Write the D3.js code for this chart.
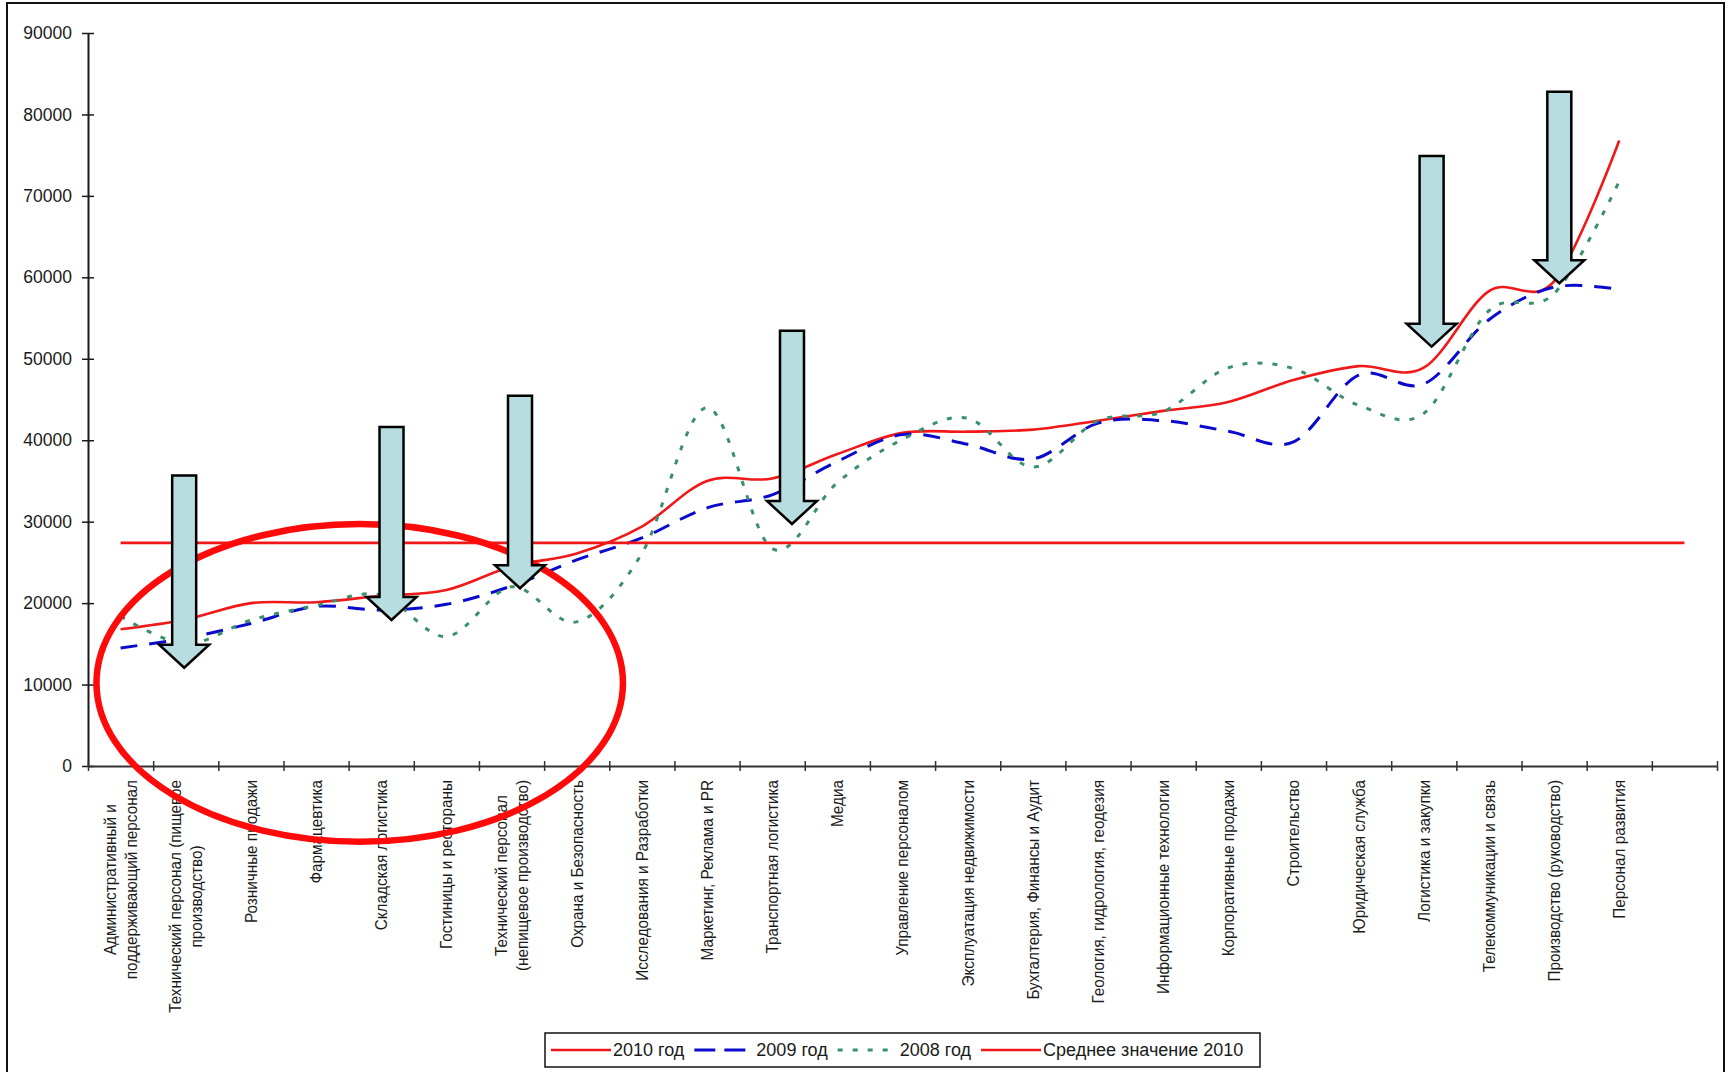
<!DOCTYPE html>
<html>
<head>
<meta charset="utf-8">
<script src="https://cdn.jsdelivr.net/npm/d3@7"></script>
<style>
  html, body { margin: 0; padding: 0; background: #fff; }
  svg { display: block; }
  text { font-family: "Liberation Sans", Arial, sans-serif; fill: #1a1a1a; }
</style>
</head>
<body>
<svg id="chart" width="1734" height="1072"></svg>
<script>
// ---------- DATA ----------
const categories = [
  "Административный и\nподдерживающий персонал",
  "Технический персонал (пищевое\nпроизводство)",
  "Розничные продажи",
  "Фармацевтика",
  "Складская логистика",
  "Гостиницы и рестораны",
  "Технический персонал\n(непищевое производство)",
  "Охрана и Безопасность",
  "Исследования и Разработки",
  "Маркетинг, Реклама и PR",
  "Транспортная логистика",
  "Медиа",
  "Управление персоналом",
  "Эксплуатация недвижимости",
  "Бухгалтерия, Финансы и Аудит",
  "Геология, гидрология, геодезия",
  "Информационные технологии",
  "Корпоративные продажи",
  "Строительство",
  "Юридическая служба",
  "Логистика и закупки",
  "Телекоммуникации и связь",
  "Производство (руководство)",
  "Персонал развития",
  ""
];

const values2010 = [16800, 18000, 20000, 20100, 20900, 21600, 24500, 26100, 29400, 35000, 35300, 38300,
                    40900, 41050, 41300, 42400, 43600, 44700, 47400, 49100, 48900, 58300, 59500, 76800];
const values2009 = [14500, 15700, 17500, 19600, 19150, 19850, 22100, 25300, 28000, 31700, 33300, 37400,
                    40700, 39500, 37700, 42100, 42400, 41100, 39800, 48000, 46900, 54800, 58800, 58500];
const values2008 = [18400, 15000, 17900, 19700, 21000, 15900, 22000, 17700, 26100, 44000, 26700, 34800,
                    40100, 42700, 36700, 42400, 43500, 48900, 48800, 44300, 43300, 55900, 58000, 71800];
const average2010 = [27400, 27400, 27400, 27400, 27400, 27400, 27400, 27400, 27400, 27400, 27400, 27400, 27400,
                     27400, 27400, 27400, 27400, 27400, 27400, 27400, 27400, 27400, 27400, 27400, 27400];

const yTickValues = [0, 10000, 20000, 30000, 40000, 50000, 60000, 70000, 80000, 90000];

const seriesNames = ["2010 год", "2009 год", "2008 год", "Среднее значение 2010"];

// annotation arrows: position in category units, top value, tip value
const arrowPos  = [1.476, 4.658, 6.63, 10.804, 20.62, 22.58];
const arrowTop  = [35670, 41630, 45470, 53450, 74900, 82800];
const arrowTip  = [12070, 17930, 21820, 29715, 51490, 59270];

// annotation ellipse: centre (category units, value), radii (category units, value)
const ellipseCenter = [4.17, 10200];
const ellipseRadius = [4.04, 19500];

// ---------- LAYOUT ----------
const svg = d3.select("#chart");
const plot = { left: 88, right: 1717, top: 33, bottom: 766 };

const x = d3.scaleBand().domain(d3.range(categories.length)).range([plot.left, plot.right]).padding(0);
const xLin = d3.scaleLinear().domain([0, categories.length]).range([plot.left, plot.right]);
const y = d3.scaleLinear().domain([0, 90000]).range([plot.bottom, plot.top]);
const cx = i => x(i) + x.bandwidth() / 2;

const colors = { s2010: "#f01818", s2009: "#0a0acc", s2008: "#3a8f6c", avg: "#f01818" };

// outer frame
svg.append("rect").attr("x", 7).attr("y", 3).attr("width", 1717).attr("height", 1080)
  .attr("fill", "none").attr("stroke", "#111").attr("stroke-width", 2);

// ---------- AXES ----------
const yAxis = svg.append("g").attr("transform", `translate(${plot.left},0)`)
  .call(d3.axisLeft(y).tickValues(yTickValues).tickFormat(d3.format("d")).tickSizeOuter(0).tickPadding(10));
yAxis.select(".domain").attr("stroke", "#1a1a1a").attr("stroke-width", 2);
yAxis.selectAll(".tick line").attr("x1", -6).attr("x2", 6).attr("stroke", "#1a1a1a").attr("stroke-width", 1.5);
yAxis.selectAll(".tick text").attr("font-size", "17.5px").attr("font-family", "Liberation Sans, Arial, sans-serif").attr("fill", "#1a1a1a");

const xAxis = svg.append("g").attr("transform", `translate(0,${plot.bottom})`)
  .call(d3.axisBottom(xLin).tickValues(d3.range(categories.length + 1)).tickFormat("").tickSizeOuter(0));
xAxis.select(".domain").attr("stroke", "#333").attr("stroke-width", 2);
xAxis.selectAll(".tick line").attr("y1", -5).attr("y2", 5).attr("stroke", "#333").attr("stroke-width", 1.5);

// category labels (rotated, block top-aligned, lines centred; slightly condensed like the original)
const labelTop = plot.bottom + 14;
const lineH = 21;
const condense = 0.9;
categories.forEach((c, i) => {
  if (!c) return;
  const lines = c.split("\n");
  const g = svg.append("g").attr("transform", `translate(${cx(i)},${labelTop}) rotate(-90) scale(${condense},1)`);
  const t = g.append("text").attr("font-size", "17px").attr("text-anchor", "middle");
  lines.forEach((ln, k) => {
    t.append("tspan").attr("x", 0).attr("y", (k - (lines.length - 1) / 2) * lineH).attr("dy", "0.35em").text(ln);
  });
  let maxW = 0;
  t.selectAll("tspan").each(function () { maxW = Math.max(maxW, this.getComputedTextLength()); });
  t.selectAll("tspan").attr("x", -maxW / 2);
});

// ---------- SERIES ----------
const line = d3.line().x((d, i) => cx(i)).y(d => y(d)).curve(d3.curveCardinal.tension(0));
const lineStraight = d3.line().x((d, i) => cx(i)).y(d => y(d));

svg.append("path").datum(values2010).attr("d", line).attr("fill", "none")
  .attr("stroke", colors.s2010).attr("stroke-width", 2.6);
svg.append("path").datum(values2009).attr("d", line).attr("fill", "none")
  .attr("stroke", colors.s2009).attr("stroke-width", 3).attr("stroke-dasharray", "17,12");
svg.append("path").datum(values2008).attr("d", line).attr("fill", "none")
  .attr("stroke", colors.s2008).attr("stroke-width", 3).attr("stroke-dasharray", "5,10");
svg.append("path").datum(average2010).attr("d", lineStraight).attr("fill", "none")
  .attr("stroke", colors.avg).attr("stroke-width", 2.6);

// ---------- ANNOTATIONS ----------
svg.append("ellipse")
  .attr("cx", xLin(ellipseCenter[0])).attr("cy", y(ellipseCenter[1]))
  .attr("rx", xLin(ellipseRadius[0]) - xLin(0)).attr("ry", y(0) - y(ellipseRadius[1]))
  .attr("fill", "none").attr("stroke", "#ff0a0a").attr("stroke-width", 6.5);

const shaftHalf = 12, headHalf = 25, headH = 23;
arrowPos.forEach((p, i) => {
  const ax = xLin(p), top = y(arrowTop[i]), tip = y(arrowTip[i]), base = tip - headH;
  const pts = [
    [ax - shaftHalf, top], [ax + shaftHalf, top], [ax + shaftHalf, base], [ax + headHalf, base],
    [ax, tip], [ax - headHalf, base], [ax - shaftHalf, base]
  ];
  svg.append("polygon").attr("points", pts.map(q => q.join(",")).join(" "))
    .attr("fill", "#b8dde0").attr("stroke", "#000").attr("stroke-width", 2.5).attr("stroke-linejoin", "miter");
});

// ---------- LEGEND ----------
const legend = svg.append("g");
legend.append("rect").attr("x", 545).attr("y", 1033).attr("width", 715).attr("height", 34)
  .attr("fill", "#fff").attr("stroke", "#111").attr("stroke-width", 1.5);
const legY = 1050;
const legStyles = [
  { c: colors.s2010, w: 2.6, dash: null },
  { c: colors.s2009, w: 3, dash: "21,9" },
  { c: colors.s2008, w: 3, dash: "5,10" },
  { c: colors.avg, w: 2.6, dash: null }
];
let lx = 551;
seriesNames.forEach((name, i) => {
  const s = legStyles[i];
  const l = legend.append("line").attr("x1", lx).attr("x2", lx + 60).attr("y1", legY).attr("y2", legY)
    .attr("stroke", s.c).attr("stroke-width", s.w);
  if (s.dash) l.attr("stroke-dasharray", s.dash);
  const t = legend.append("text").attr("x", lx + 62).attr("y", legY).attr("dy", "0.35em")
    .attr("font-size", "18px").text(name);
  lx = lx + 62 + t.node().getComputedTextLength() + 10;
});
</script>
</body>
</html>
